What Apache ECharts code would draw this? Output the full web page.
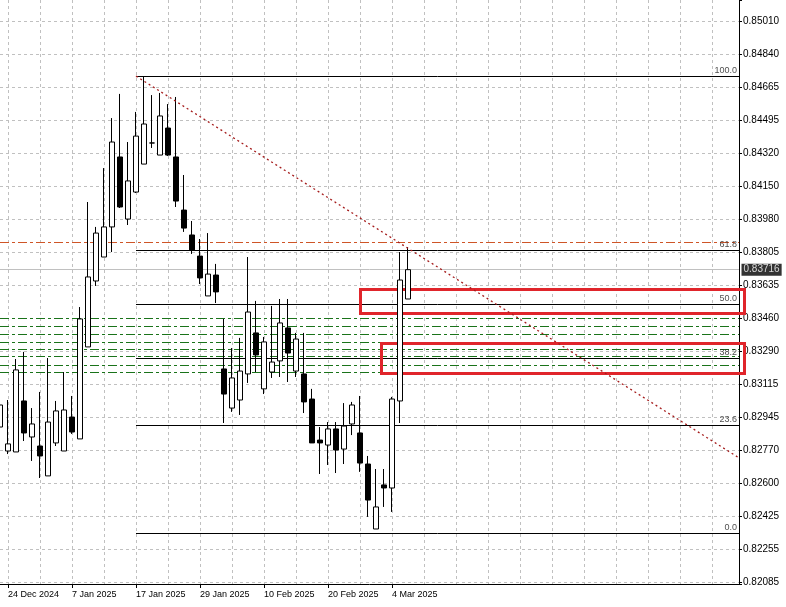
<!DOCTYPE html>
<html><head><meta charset="utf-8">
<script src="https://cdn.jsdelivr.net/npm/echarts@6/dist/echarts.min.js"></script>
<style>html,body{margin:0;padding:0;background:#fff}#c{width:786px;height:607px}</style>
</head><body><div id="c"></div>
<script>
// ---- data (daily candles) ----
const dates = ['23 Dec 2024','24 Dec 2024','26 Dec 2024','27 Dec 2024','30 Dec 2024','31 Dec 2024','2 Jan 2025','3 Jan 2025','6 Jan 2025','7 Jan 2025',
  '8 Jan 2025','9 Jan 2025','10 Jan 2025','13 Jan 2025','14 Jan 2025','15 Jan 2025','16 Jan 2025','17 Jan 2025','20 Jan 2025','21 Jan 2025',
  '22 Jan 2025','23 Jan 2025','24 Jan 2025','27 Jan 2025','28 Jan 2025','29 Jan 2025','30 Jan 2025','31 Jan 2025','3 Feb 2025','4 Feb 2025',
  '5 Feb 2025','6 Feb 2025','7 Feb 2025','10 Feb 2025','11 Feb 2025','12 Feb 2025','13 Feb 2025','14 Feb 2025','17 Feb 2025','18 Feb 2025',
  '19 Feb 2025','20 Feb 2025','21 Feb 2025','24 Feb 2025','25 Feb 2025','26 Feb 2025','27 Feb 2025','28 Feb 2025','3 Mar 2025','4 Mar 2025',
  '5 Mar 2025','6 Mar 2025'];
const opens = [0.82895,0.82770,0.82765,0.83031,0.82843,0.82796,0.82640,0.82812,0.82770,0.82947,
  0.82833,0.83313,0.83657,0.83782,0.83939,0.84304,0.83980,0.84121,0.84267,0.84377,
  0.84314,0.84455,0.84304,0.84027,0.83897,0.83787,0.83579,0.83688,0.83198,0.82994,
  0.83036,0.83172,0.83386,0.83094,0.83182,0.83240,0.83412,0.83187,0.83172,0.83041,
  0.82827,0.82801,0.82885,0.82780,0.82911,0.82864,0.82702,0.82363,0.82593,0.82577,
  0.83031,0.83563];
const closes = [0.83010,0.82807,0.83193,0.82864,0.82911,0.82744,0.82921,0.82979,0.82984,0.82869,
  0.83459,0.83678,0.83907,0.83939,0.84382,0.84043,0.84179,0.84413,0.84476,0.84377,
  0.84518,0.84314,0.84074,0.83933,0.83819,0.83673,0.83693,0.83600,0.83067,0.83151,
  0.83187,0.83495,0.83271,0.83339,0.83234,0.83438,0.83281,0.83354,0.83026,0.82812,
  0.82812,0.82885,0.82775,0.82900,0.83010,0.82707,0.82514,0.82478,0.82577,0.83041,
  0.83662,0.83716];
const lows = [0.82775,0.82754,0.82765,0.82822,0.82718,0.82629,0.82640,0.82796,0.82770,0.82859,
  0.82833,0.83313,0.83631,0.83782,0.83808,0.84038,0.83949,0.84116,0.84267,0.84351,
  0.84314,0.84309,0.84043,0.83913,0.83798,0.83641,0.83579,0.83542,0.82916,0.82974,
  0.82958,0.83125,0.83182,0.83067,0.83151,0.83156,0.83130,0.83156,0.82968,0.82812,
  0.82650,0.82697,0.82655,0.82702,0.82853,0.82661,0.82426,0.82363,0.82478,0.82452,
  0.82916,0.83563];
const highs = [0.83146,0.83036,0.83250,0.83287,0.82994,0.83078,0.83255,0.83031,0.83182,0.83057,
  0.83521,0.84069,0.83939,0.84246,0.84507,0.84633,0.84382,0.84539,0.84726,0.84627,
  0.84638,0.84580,0.84617,0.84210,0.83970,0.83876,0.83907,0.83746,0.83459,0.83307,
  0.83360,0.83782,0.83553,0.83365,0.83527,0.83563,0.83563,0.83386,0.83386,0.83094,
  0.82895,0.82921,0.82921,0.83020,0.83026,0.83057,0.82744,0.82676,0.82676,0.83052,
  0.83808,0.83834];
const xTickDates = ['24 Dec 2024','7 Jan 2025','17 Jan 2025','29 Jan 2025','10 Feb 2025','20 Feb 2025','4 Mar 2025'];
const yTickLabels = ['0.82085','0.82255','0.82425','0.82600','0.82770','0.82945','0.83115','0.83290','0.83460',
  '0.83635','0.83805','0.83980','0.84150','0.84320','0.84495','0.84665','0.84840','0.85010'];
const fibLevels = ['100.0','61.8','50.0','38.2','23.6','0.0'];
const fibPrices = [0.84726,0.83815,0.83534,0.83253,0.82905,0.82342];
const fibStartIdx = 17;
const trendStart = [17, 0.84726];
const trendEnd = [92.375, 0.82734];
const orangeLevel = 0.83860;
const currentPrice = 0.83716;
const greenLevels = [0.83462,0.83419,0.83379,0.83337,0.83301,0.83262,0.83217,0.83181];
const boxLeft = [45.06, 47.63];
const boxRight = [93.0, 93.0];
const boxTop = [0.83615, 0.83334];
const boxBottom = [0.83490, 0.83177];

// ---- axis layout ----
const XMAX = 92.375;            // visible candle slots incl. right shift
const Y_MIN = 0.82076, Y_MAX = 0.85123;
const yTickBase = 0.82085, yTickStep = 0.00172059;
const U_MIN = (Y_MIN - yTickBase) / yTickStep, U_MAX = (Y_MAX - yTickBase) / yTickStep;
const FONT = 'Liberation Sans, Arial, sans-serif';

const tickIdx = xTickDates.map(d => dates.indexOf(d));
const candleData = dates.map((d, i) => [i, opens[i], closes[i], lows[i], highs[i]]);

// horizontal segment series, snapped to the pixel grid so 1px lines stay crisp
function hLineSeries(rows, style) {
  return {
    type: 'custom', xAxisIndex: 0, yAxisIndex: 0, silent: true, clip: false,
    data: rows,
    renderItem: (params, api) => {
      const a = api.coord([api.value(0), api.value(2)]);
      const b = api.coord([api.value(1), api.value(2)]);
      const y = Math.round(a[1] - 0.5) + 0.5;
      return {type: 'line', shape: {x1: Math.round(a[0]), y1: y, x2: Math.round(b[0]), y2: y}, style: style};
    }
  };
}

const series = [];
series.push(hLineSeries(greenLevels.map(p => [0, XMAX, p]), {stroke: '#1a731a', lineWidth: 1, lineDash: [9, 3, 3, 3]}));
series.push(hLineSeries([[0, XMAX, orangeLevel]], {stroke: '#cf5527', lineWidth: 1, lineDash: [9, 3, 3, 3]}));
series.push(hLineSeries([[0, XMAX, currentPrice]], {stroke: '#c0c0c0', lineWidth: 1}));
series.push(hLineSeries(fibPrices.map(p => [fibStartIdx, XMAX, p]), {stroke: '#000', lineWidth: 1}));
series.push({
  type: 'candlestick', xAxisIndex: 0, yAxisIndex: 0, data: candleData, barWidth: 5, silent: true,
  itemStyle: {color: '#fff', color0: '#000', borderColor: '#000', borderColor0: '#000', borderWidth: 1}
});
series.push({
  type: 'line', xAxisIndex: 0, yAxisIndex: 0, symbol: 'none', silent: true,
  data: [trendStart, trendEnd], lineStyle: {color: '#a51c1c', width: 1.3, type: [2, 3]}
});
series.push({
  type: 'custom', xAxisIndex: 0, yAxisIndex: 0, silent: true, clip: false,
  data: boxLeft.map((x0, i) => [x0, boxTop[i], boxRight[i], boxBottom[i]]),
  renderItem: (params, api) => {
    const a = api.coord([api.value(0), api.value(1)]);
    const b = api.coord([api.value(2), api.value(3)]);
    const x0 = Math.round(a[0]) + 0.5, y0 = Math.round(a[1]) + 0.5;
    const x1 = Math.round(b[0]) + 0.5, y1 = Math.round(b[1]) + 0.5;
    return {type: 'rect', shape: {x: x0, y: y0, width: x1 - x0, height: y1 - y0},
      style: {fill: null, stroke: '#e0252b', lineWidth: 3, lineJoin: 'miter'}, z2: 10};
  }
});
series.push({
  type: 'scatter', xAxisIndex: 0, yAxisIndex: 0, symbolSize: 1, silent: true, clip: false,
  itemStyle: {color: 'transparent'},
  data: fibPrices.map(p => [XMAX, p]),
  label: {show: true, position: 'top', align: 'right', distance: 1, offset: [-2, 0],
    formatter: params => fibLevels[params.dataIndex], fontSize: 9, fontFamily: FONT, color: '#222'}
});
series.push({
  type: 'scatter', xAxisIndex: 0, yAxisIndex: 0, symbolSize: 1, silent: true, clip: false,
  itemStyle: {color: 'transparent'},
  data: [[XMAX, currentPrice]],
  label: {show: true, position: 'right', distance: 2, formatter: currentPrice.toFixed(5),
    backgroundColor: '#000', color: '#fff', padding: [1, 2, 0, 2], lineHeight: 11,
    fontSize: 10, fontFamily: FONT}
});

const chart = echarts.init(document.getElementById('c'), null, {renderer: 'canvas'});
chart.setOption({
  animation: false,
  backgroundColor: '#fff',
  grid: {left: 0, right: 47, top: 0, bottom: 23, containLabel: false, outerBoundsMode: 'none'},
  xAxis: [
    {type: 'value', min: 0, max: XMAX, position: 'bottom',
      axisLine: {show: true, onZero: false, lineStyle: {color: '#000', width: 1}},
      axisTick: {show: true, length: 4, lineStyle: {color: '#000'}, customValues: tickIdx},
      axisLabel: {show: true, customValues: tickIdx, formatter: v => dates[Math.round(v)] || '',
        align: 'left', margin: 6, fontSize: 9, fontFamily: FONT, color: '#000'},
      splitLine: {show: false}},
    {type: 'value', min: -0.25, max: (XMAX - 1) / 4, minInterval: 1, maxInterval: 1, position: 'bottom',
      axisLine: {show: false, onZero: false}, axisTick: {show: false}, axisLabel: {show: false},
      splitLine: {show: true, showMinLine: false, showMaxLine: false, lineStyle: {color: '#c0c0c0', width: 1, type: [3, 3]}}}
  ],
  yAxis: [
    {type: 'value', min: Y_MIN, max: Y_MAX, position: 'right', show: false,
      axisLine: {onZero: false}, splitLine: {show: false}},
    {type: 'value', min: U_MIN, max: U_MAX, minInterval: 1, maxInterval: 1, position: 'right',
      axisLine: {show: true, onZero: false, lineStyle: {color: '#000', width: 1}},
      axisTick: {show: true, length: 3, lineStyle: {color: '#000'}},
      axisLabel: {formatter: v => (Math.abs(v - Math.round(v)) < 1e-6 && yTickLabels[Math.round(v)]) || '',
        margin: 4, fontSize: 10, fontFamily: FONT, color: '#000'},
      splitLine: {show: true, showMinLine: false, showMaxLine: false, lineStyle: {color: '#c0c0c0', width: 1, type: [3, 3]}}}
  ],
  series: series
});
</script>
</body></html>
